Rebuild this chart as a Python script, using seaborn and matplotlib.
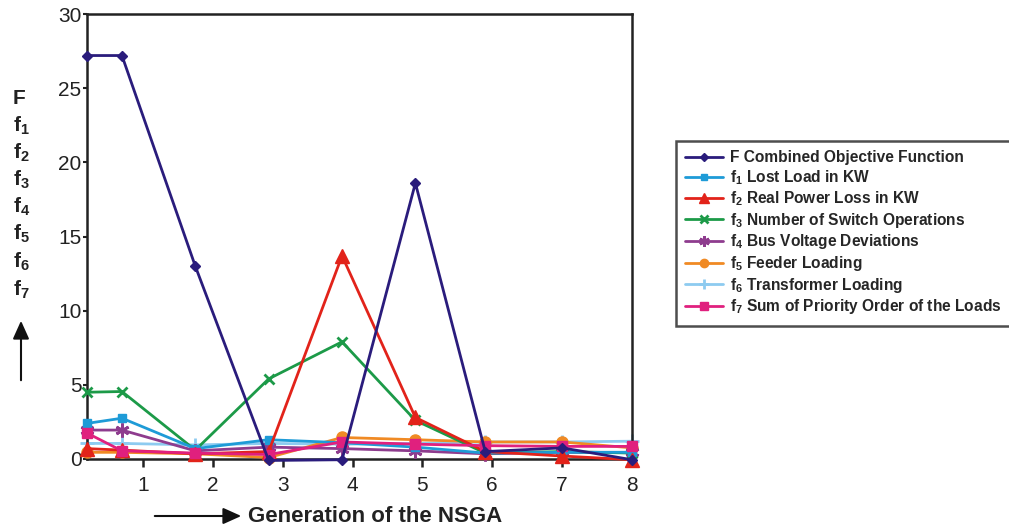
import numpy as np
import pandas as pd
import matplotlib
matplotlib.use("Agg")
import matplotlib.pyplot as plt
import seaborn as sns

# Values
generation = [0.2, 0.7, 1.75, 2.8, 3.85, 4.9, 5.9, 7.0, 8.0]
F_combined = [27.2, 27.2, 13.0, -0.1, -0.05, 18.6, 0.5, 0.75, -0.05]
f1_lost_load = [2.4, 2.75, 0.7, 1.3, 1.1, 0.8, 0.4, 0.45, 0.45]
f2_power_loss = [0.7, 0.6, 0.35, 0.5, 13.7, 2.8, 0.5, 0.2, -0.05]
f3_switch_ops = [4.5, 4.55, 0.6, 5.4, 7.9, 2.6, 0.4, 0.5, 0.4]
f4_voltage_dev = [1.95, 1.95, 0.55, 0.8, 0.7, 0.55, 0.35, 0.45, 0.45]
f5_feeder = [0.45, 0.45, 0.35, 0.1, 1.45, 1.3, 1.15, 1.15, 0.75]
f6_transformer = [1.05, 1.05, 0.95, 1.05, 1.0, 1.05, 1.15, 1.15, 1.2]
f7_priority = [1.75, 0.55, 0.4, 0.3, 1.15, 1.0, 0.9, 0.85, 0.85]

labels = [
    r"F Combined Objective Function",
    r"f$_\mathbf{1}$ Lost Load in KW",
    r"f$_\mathbf{2}$ Real Power Loss in KW",
    r"f$_\mathbf{3}$ Number of Switch Operations",
    r"f$_\mathbf{4}$ Bus Voltage Deviations",
    r"f$_\mathbf{5}$ Feeder Loading",
    r"f$_\mathbf{6}$ Transformer Loading",
    r"f$_\mathbf{7}$ Sum of Priority Order of the Loads",
]
series = [F_combined, f1_lost_load, f2_power_loss, f3_switch_ops,
          f4_voltage_dev, f5_feeder, f6_transformer, f7_priority]
colours = ["#2A1C7C", "#1E9BD7", "#E2231A", "#1C9A48",
           "#8E3C8E", "#F08A24", "#8DCBF0", "#E0207E"]
markers = ["D", "s", "^", "x", (6, 2, 0), "o", "+", "s"]
msizes = [5, 6, 10, 7, 10, 8, 10, 7]
zorders = [9, 6, 7, 5, 4, 3, 2, 8]

sns.set_style("white")
plt.rcParams["font.family"] = ["Liberation Sans", "DejaVu Sans"]
plt.rcParams["mathtext.fontset"] = "custom"
plt.rcParams["mathtext.rm"] = "Liberation Sans"
plt.rcParams["mathtext.bf"] = "Liberation Sans:bold"
plt.rcParams["mathtext.default"] = "bf"

fig = plt.figure(figsize=(10.09, 5.31), dpi=100)
ax = fig.add_axes([87 / 1009, 1 - 459 / 531, (632 - 87) / 1009, (459 - 14) / 531])

handles = []
for lab, vals, col, mk, ms, zo in zip(labels, series, colours, markers, msizes, zorders):
    df = pd.DataFrame({"gen": generation, "val": vals})
    thin = mk in ("x", "+", (6, 2, 0))
    sns.lineplot(data=df, x="gen", y="val", ax=ax, color=col, marker=mk,
                 markersize=ms, markeredgewidth=2 if thin else 1,
                 markeredgecolor=col, linewidth=2, sort=False, clip_on=False,
                 zorder=zo, label=lab, legend=False)
    handles.append(plt.Line2D([], [], color=col, marker=mk, lw=2,
                              markersize=ms * 0.75, markeredgecolor=col,
                              markeredgewidth=2 if thin else 1))

ax.set_xlim(0.2, 8)
ax.set_ylim(0, 30)
ax.set_xticks(range(1, 9))
ax.set_yticks(range(0, 31, 5))
ax.set_xlabel("")
ax.set_ylabel("")
for s in ax.spines.values():
    s.set_visible(True)
    s.set_color("#222222")
    s.set_linewidth(1.8)
ax.tick_params(axis="x", direction="out", length=6, width=1.8, pad=6,
               labelsize=15, bottom=True, colors="#222222")
ax.tick_params(axis="y", direction="out", length=3, width=1.5, pad=1,
               labelsize=15, left=True, colors="#222222")

leg = fig.legend(handles, labels, loc="upper left",
                 bbox_to_anchor=(676 / 1009, 1 - 141 / 531),
                 frameon=True, fancybox=False, shadow=False,
                 prop={"weight": "bold", "size": 11.2},
                 handlelength=2.4, handletextpad=0.5, labelspacing=0.17,
                 borderpad=0.6, borderaxespad=0)
leg.get_frame().set_edgecolor("#222222")
leg.get_frame().set_linewidth(1.8)

# Stacked objective names on the left
left_labels = ["F"] + [rf"f$_\mathbf{{{i}}}$" for i in range(1, 8)]
left_y = [98, 126, 153, 180, 207, 234, 262, 290]
for txt, yy in zip(left_labels, left_y):
    fig.text(13 / 1009, 1 - yy / 531, txt, fontsize=15, fontweight="bold",
             ha="left", va="center", color="#222222")

fig.patches.append(matplotlib.patches.FancyArrowPatch(
    (21 / 1009, 1 - 383 / 531), (21 / 1009, 1 - 318 / 531),
    transform=fig.transFigure, arrowstyle="-|>,head_length=10,head_width=4.5",
    mutation_scale=1.1, color="#111111", lw=1.5))

fig.patches.append(matplotlib.patches.FancyArrowPatch(
    (152 / 1009, 1 - 516 / 531), (244 / 1009, 1 - 516 / 531),
    transform=fig.transFigure, arrowstyle="-|>,head_length=10,head_width=4.5",
    mutation_scale=1.1, color="#111111", lw=1.5))

fig.text(248 / 1009, 1 - 517 / 531, "Generation of the NSGA", fontsize=16,
         fontweight="bold", ha="left", va="center", color="#222222")

fig.savefig("out.png", dpi=100)
